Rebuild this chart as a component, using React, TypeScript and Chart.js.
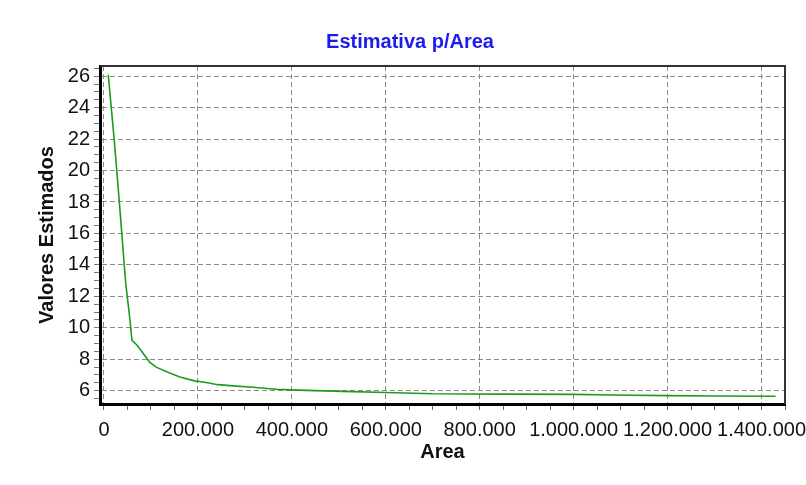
import React, { useEffect, useRef } from "react";
import { Chart, registerables } from "chart.js";

Chart.register(...registerables);

const TITLE = "Estimativa p/Area";
const X_TITLE = "Area";
const Y_TITLE = "Valores Estimados";

const areas = [
  9000, 22000, 34000, 46000, 55000, 59500, 69500, 80000, 90700, 97700, 112000,
  140000, 161500, 193000, 214600, 243000, 275000, 317000, 367000, 413000,
  508000, 600000, 700000, 850000, 1000000, 1080000, 1200000, 1300000, 1430000,
];
const estimated = [
  26.1, 21.9, 17.5, 12.9, 10.6, 9.2, 8.92, 8.5, 8.07, 7.8, 7.48,
  7.12, 6.87, 6.62, 6.53, 6.38, 6.3, 6.22, 6.09, 6.03,
  5.95, 5.88, 5.8, 5.78, 5.76, 5.72, 5.68, 5.66, 5.64,
];

const X_MIN = -8500;
const X_MAX = 1450000;
const X_MAJOR = 200000;
const X_MINOR = 50000;
const Y_MIN = 5.15;
const Y_MAX = 26.65;
const Y_MAJOR = 2;
const Y_MINOR = 0.5;

const FONT = "'Liberation Sans', Arial, sans-serif";

const fmt = (v: number) =>
  Math.round(v).toString().replace(/\B(?=(\d{3})+(?!\d))/g, ".");

const isMultiple = (v: number, step: number) =>
  Math.abs(v / step - Math.round(v / step)) < 1e-6;

const buildTicks = (min: number, max: number, step: number) => {
  const out: { value: number }[] = [];
  const start = Math.ceil(min / step - 1e-9);
  const end = Math.floor(max / step + 1e-9);
  for (let i = start; i <= end; i++) {
    out.push({ value: Math.round(i * step * 1e6) / 1e6 });
  }
  return out;
};

const framePlugin = {
  id: "frame",
  afterDraw(chart: any) {
    const { ctx, chartArea } = chart;
    ctx.save();
    ctx.strokeStyle = "#333";
    ctx.lineWidth = 2;
    ctx.beginPath();
    ctx.moveTo(chartArea.left, chartArea.top);
    ctx.lineTo(chartArea.right, chartArea.top);
    ctx.lineTo(chartArea.right, chartArea.bottom);
    ctx.stroke();
    ctx.restore();
  },
};

export default function App() {
  const ref = useRef<HTMLCanvasElement | null>(null);

  useEffect(() => {
    document.body.style.margin = "0";
    if (!ref.current) return;
    const chart = new Chart(ref.current, {
      type: "line",
      data: {
        datasets: [
          {
            data: areas.map((a, i) => ({ x: a, y: estimated[i] })),
            borderColor: "#1e9a1e",
            borderWidth: 1.6,
            pointRadius: 0,
            tension: 0,
            fill: false,
          },
        ],
      },
      options: {
        animation: false,
        responsive: true,
        maintainAspectRatio: false,
        layout: { padding: { left: 35, right: 21, top: 0, bottom: 0 } },
        plugins: {
          legend: { display: false },
          tooltip: { enabled: false },
          title: {
            display: true,
            text: TITLE,
            color: "#1c1cf0",
            font: { family: FONT, size: 20, weight: "bold" },
            padding: { top: 30, bottom: 12 },
          },
        },
        scales: {
          x: {
            type: "linear",
            min: X_MIN,
            max: X_MAX,
            afterBuildTicks: (scale: any) => {
              scale.ticks = buildTicks(X_MIN, X_MAX, X_MINOR);
            },
            afterFit: (scale: any) => {
              scale.height = 81;
            },
            ticks: {
              autoSkip: false,
              maxRotation: 0,
              minRotation: 0,
              padding: 8,
              color: "#111",
              font: { family: FONT, size: 20 },
              callback: (v: any) => (isMultiple(Number(v), X_MAJOR) ? fmt(Number(v)) : ""),
            },
            grid: {
              color: (ctx: any) =>
                ctx.tick && isMultiple(ctx.tick.value, X_MAJOR) ? "#8a8a8a" : "rgba(0,0,0,0)",
              lineWidth: 1,
              tickLength: 6,
              tickColor: "#666",
              tickBorderDash: [],
            },
            border: { display: true, color: "#000", width: 3, dash: [5, 3] },
            title: {
              display: true,
              text: X_TITLE,
              color: "#111",
              font: { family: FONT, size: 20, weight: "bold" },
              padding: { top: 0, bottom: 21 },
            },
          },
          y: {
            type: "linear",
            min: Y_MIN,
            max: Y_MAX,
            afterBuildTicks: (scale: any) => {
              scale.ticks = buildTicks(Y_MIN, Y_MAX, Y_MINOR);
            },
            afterFit: (scale: any) => {
              scale.width = 65;
            },
            ticks: {
              autoSkip: false,
              padding: 4,
              color: "#111",
              font: { family: FONT, size: 20 },
              callback: (v: any) => (isMultiple(Number(v), Y_MAJOR) ? String(Math.round(Number(v))) : ""),
            },
            grid: {
              color: (ctx: any) =>
                ctx.tick && isMultiple(ctx.tick.value, Y_MAJOR) ? "#8a8a8a" : "rgba(0,0,0,0)",
              lineWidth: 1,
              tickLength: 6,
              tickColor: "#777",
              tickBorderDash: [],
            },
            border: { display: true, color: "#000", width: 3, dash: [5, 3] },
            title: {
              display: true,
              text: Y_TITLE,
              color: "#111",
              font: { family: FONT, size: 20, weight: "bold" },
              padding: { top: 0, bottom: 0 },
            },
          },
        },
      },
      plugins: [framePlugin],
    });
    return () => chart.destroy();
  }, []);

  return (
    <div style={{ width: 806, height: 485, position: "relative" }}>
      <canvas ref={ref} />
    </div>
  );
}
